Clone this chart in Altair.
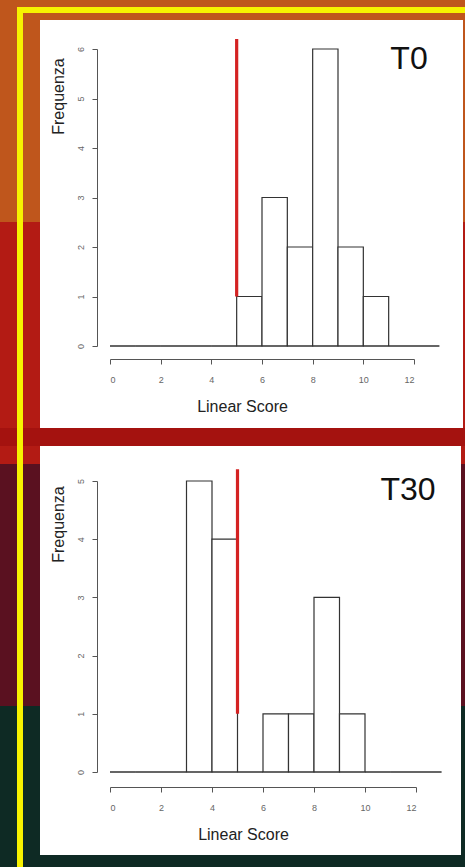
import altair as alt
import pandas as pd

# ---- data ----
bin_starts = [0, 1, 2, 3, 4, 5, 6, 7, 8, 9, 10, 11, 12]
bin_ends = [1, 2, 3, 4, 5, 6, 7, 8, 9, 10, 11, 12, 13]
t0_counts = [0, 0, 0, 0, 0, 1, 3, 2, 6, 2, 1, 0, 0]
t30_counts = [0, 0, 0, 5, 4, 0, 1, 1, 3, 1, 0, 0, 0]
threshold = 5
t0_red = [1, 6.2]
t30_red = [1, 5.2]
x_ticks = [0, 2, 4, 6, 8, 10, 12]
t0_y_ticks = [0, 1, 2, 3, 4, 5, 6]
t30_y_ticks = [0, 1, 2, 3, 4, 5]
panel_titles = ["T0", "T30"]
x_title = "Linear Score"
y_title = "Frequenza"

FONT = "Liberation Sans"
W, H = 465, 867

one = alt.Data(values=[{}])


def band(x0, x1, y0, y1, color):
    return alt.Chart(one).mark_rect(color=color, strokeWidth=0).encode(
        x=alt.value(x0), x2=alt.value(x1), y=alt.value(y0), y2=alt.value(y1)
    )


background = [
    band(0, W, 0, 222, "#bf561c"),
    band(0, W, 222, 464, "#b31b14"),
    band(0, W, 428, 446, "#a4120f"),
    band(0, W, 464, 706, "#5a1120"),
    band(0, W, 706, H, "#0e2a24"),
    band(17, W, 7, 13, "#f7f200"),
    band(17, 23, 7, H, "#f7f200"),
    band(40, 463, 20, 428, "#ffffff"),
    band(40, 461, 446, 855, "#ffffff"),
]


def panel(counts, yticks, red, title, xr, yr, x_off, y_title_y, x_title_x, title_pos):
    df = pd.DataFrame({"start": bin_starts, "end": bin_ends, "count": counts})
    xs = alt.Scale(domain=[0, 12], range=xr, nice=False, zero=False)
    ys = alt.Scale(domain=[0, max(yticks)], range=yr, nice=False, zero=False)
    xaxis = alt.Axis(
        orient="bottom", values=x_ticks, offset=x_off, zindex=1, grid=False, format="d",
        domainColor="#555555", tickColor="#555555", tickSize=5, domainWidth=1, tickWidth=1,
        labelFont=FONT, labelFontSize=9, labelColor="#666666", labelPadding=11,
        title=x_title, titleFont=FONT, titleFontSize=16, titleFontWeight="normal",
        titleColor="#222222", titleX=x_title_x, titleY=47, titleBaseline="middle",
        titleAlign="center",
    )
    yaxis = alt.Axis(
        orient="left", values=yticks, offset=-97, zindex=1, grid=False, format="d",
        domainColor="#555555", tickColor="#555555", tickSize=5, domainWidth=1, tickWidth=1,
        labelFont=FONT, labelFontSize=9, labelColor="#666666", labelAngle=270,
        labelPadding=12, labelAlign="center", labelBaseline="middle",
        title=y_title, titleFont=FONT, titleFontSize=16, titleFontWeight="normal",
        titleColor="#222222", titleAngle=270, titleX=-39, titleY=y_title_y,
        titleAlign="center", titleBaseline="middle",
    )
    bars = alt.Chart(df).mark_rect(fill="white", stroke="#333333", strokeWidth=1.2).encode(
        x=alt.X("start:Q", scale=xs, axis=xaxis),
        x2="end:Q",
        y=alt.Y("count:Q", scale=ys, axis=yaxis),
        y2=alt.datum(0),
    )
    base = alt.Chart(pd.DataFrame({"a": [bin_starts[0]], "b": [bin_ends[-1]], "z": [0]})).mark_rule(
        color="#333333", strokeWidth=1.2
    ).encode(x="a:Q", x2="b:Q", y="z:Q")
    redline = alt.Chart(pd.DataFrame({"x": [threshold], "lo": [red[0]], "hi": [red[1]]})).mark_rule(
        color="#d42222", strokeWidth=3.2
    ).encode(x="x:Q", y="lo:Q", y2="hi:Q")
    txt = alt.Chart(pd.DataFrame({"t": [title]})).mark_text(
        font=FONT, fontSize=32, color="#111111", align="center", baseline="middle"
    ).encode(text="t:N", x=alt.value(title_pos[0]), y=alt.value(title_pos[1]))
    return alt.layer(bars, base, redline, txt)


p1 = panel(t0_counts, t0_y_ticks, t0_red, panel_titles[0], [110, 414], [346, 49], 359 - H, 96, 242, (409, 59))
p2 = panel(t30_counts, t30_y_ticks, t30_red, panel_titles[1], [110, 416], [772, 481], 787 - H, 524, 243, (408, 490))

chart = alt.layer(*background, p1, p2).resolve_scale(
    x="independent", y="independent"
).resolve_axis(x="independent", y="independent").properties(
    width=W, height=H, padding=0, autosize=alt.AutoSizeParams(type="none"),
    background="#0e2a24",
).configure_view(strokeWidth=0)

chart.save("out.html", embed_options={"renderer": "svg", "actions": False})
